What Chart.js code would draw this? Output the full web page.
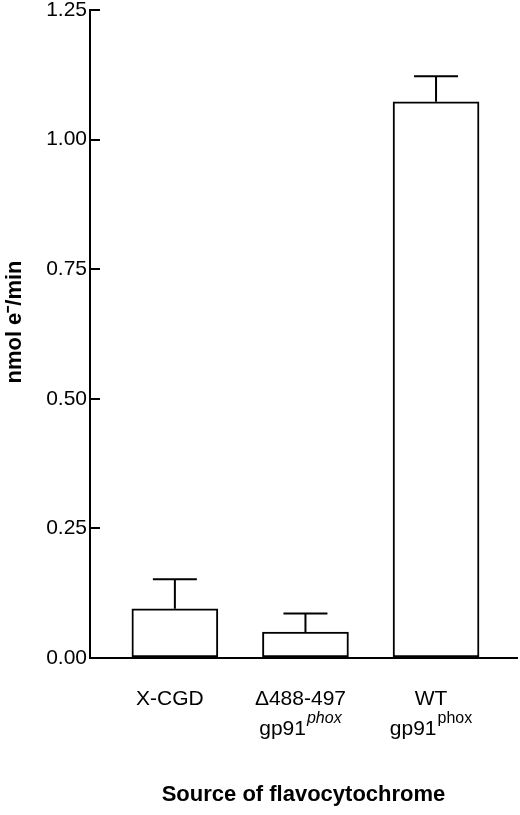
<!DOCTYPE html>
<html>
<head>
<meta charset="utf-8">
<script src="https://cdn.jsdelivr.net/npm/chart.js@4.4.1/dist/chart.umd.min.js"></script>
<style>
  html, body { margin: 0; padding: 0; background: #fff; }
  #wrap { width: 520px; height: 815px; }
</style>
</head>
<body>
<div id="wrap"><canvas id="c" width="520" height="815"></canvas></div>
<script>
// ---- data ----
const categoryLine1 = ['X-CGD', '\u0394488-497', 'WT'];
const categoryLine2 = ['', 'gp91', 'gp91'];
const categorySup = ['', 'phox', 'phox'];
const categorySupItalic = [false, true, false];
const values = [0.095, 0.050, 1.073];
const errors = [0.057, 0.036, 0.049];
const yTicks = [0, 0.25, 0.5, 0.75, 1.0, 1.25];
const yTitle = 'nmol e\u207B/min';
const xTitle = 'Source of flavocytochrome';

const FONT = "'Liberation Sans', Arial, Helvetica, sans-serif";

const points = values.map((v, i) => ({ x: i + 1, y: v }));

const errorBars = {
  id: 'errorBars',
  afterDatasetsDraw(chart) {
    const { ctx, scales: { x, y } } = chart;
    ctx.save();
    ctx.strokeStyle = '#000';
    ctx.lineWidth = 2;
    values.forEach((v, i) => {
      const px = x.getPixelForValue(i + 1);
      const y0 = y.getPixelForValue(v);
      const y1 = y.getPixelForValue(v + errors[i]);
      ctx.beginPath();
      ctx.moveTo(px, y0);
      ctx.lineTo(px, y1);
      ctx.moveTo(px - 22, y1);
      ctx.lineTo(px + 22, y1);
      ctx.stroke();
    });
    ctx.restore();
  }
};

const textLabels = {
  id: 'textLabels',
  afterDraw(chart) {
    const { ctx, scales: { x, y } } = chart;
    const base = y.getPixelForValue(0);
    ctx.save();
    ctx.fillStyle = '#000';
    ctx.textBaseline = 'alphabetic';
    categoryLine1.forEach((lab, i) => {
      const cx = x.getPixelForValue(i + 1) - 5;
      ctx.font = '21px ' + FONT;
      ctx.textAlign = 'center';
      ctx.fillText(lab, cx, base + 47);
      if (categoryLine2[i]) {
        const mainFont = '21px ' + FONT;
        const supFont = (categorySupItalic[i] ? 'italic ' : '') + '16px ' + FONT;
        ctx.font = mainFont;
        const w1 = ctx.measureText(categoryLine2[i]).width;
        ctx.font = supFont;
        const w2 = ctx.measureText(categorySup[i]).width;
        const start = cx - (w1 + w2 + 1) / 2;
        ctx.textAlign = 'left';
        ctx.font = mainFont;
        ctx.fillText(categoryLine2[i], start, base + 77);
        ctx.font = supFont;
        ctx.fillText(categorySup[i], start + w1 + 1, base + 65);
      }
    });
    // y-axis title
    ctx.translate(15, 322);
    ctx.rotate(-Math.PI / 2);
    ctx.font = 'bold 22px ' + FONT;
    ctx.textAlign = 'center';
    ctx.textBaseline = 'middle';
    ctx.fillText(yTitle, 0, 0);
    ctx.restore();
  }
};

new Chart(document.getElementById('c'), {
  type: 'bar',
  data: {
    datasets: [{
      data: points,
      backgroundColor: '#fff',
      borderColor: '#000',
      borderWidth: 2,
      borderSkipped: false,
      barThickness: 86
    }]
  },
  options: {
    responsive: false,
    animation: false,
    devicePixelRatio: 1,
    layout: { padding: { top: 0, right: 3, left: 0, bottom: 0 } },
    plugins: { legend: { display: false }, tooltip: { enabled: false } },
    scales: {
      x: {
        type: 'linear',
        offset: false,
        min: 0.35,
        max: 3.62,
        grid: { display: false },
        border: { display: true, color: '#000', width: 2 },
        ticks: { display: false },
        title: {
          display: true,
          text: xTitle,
          color: '#000',
          font: { family: FONT, size: 22, weight: 'bold' },
          padding: { top: 0, bottom: 7 }
        },
        afterFit(scale) { scale.height = 157; }
      },
      y: {
        min: 0,
        max: 1.25,
        afterBuildTicks(scale) { scale.ticks = yTicks.map(v => ({ value: v })); },
        ticks: {
          color: '#000',
          font: { family: FONT, size: 21 },
          padding: 13,
          callback: (v) => Number(v).toFixed(2)
        },
        grid: {
          display: true,
          drawOnChartArea: false,
          drawTicks: true,
          tickLength: -10,
          color: '#000',
          lineWidth: 2
        },
        border: { display: true, color: '#000', width: 2 },
        afterFit(scale) { scale.width = 90; scale.paddingTop = 10; }
      }
    }
  },
  plugins: [errorBars, textLabels]
});
</script>
</body>
</html>
